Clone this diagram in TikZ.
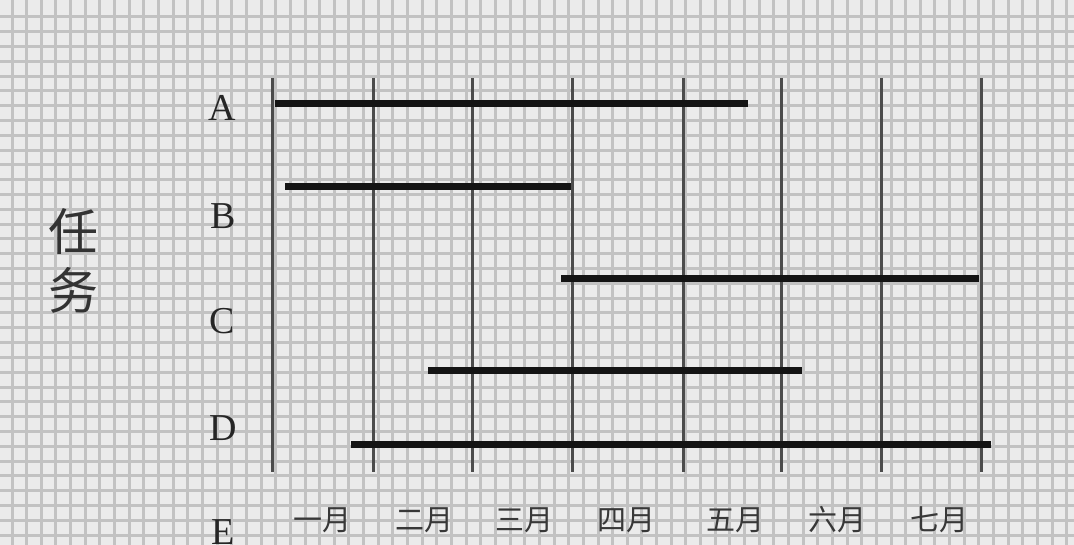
\documentclass[tikz,border=0pt]{standalone}
\usepackage{fontspec}
\setmainfont{Liberation Serif}
\newfontfamily\cjk{Noto Sans CJK SC}
\begin{document}
\begin{tikzpicture}[x=1pt,y=-1pt,
  gridline/.style={draw=black!24,line width=3pt},
  axisline/.style={draw=black!70,line width=3pt},
  taskbar/.style={draw=black!92,line width=7pt},
  letter/.style={text=black!85,font=\fontsize{38}{40}\selectfont,inner sep=0pt},
  month/.style={text=black!78,font=\cjk\fontsize{29}{30}\selectfont,inner sep=0pt},
  vlabel/.style={text=black!80,font=\cjk\fontsize{50}{52}\selectfont,inner sep=0pt}]
\useasboundingbox (0,0) rectangle (1074,545);
\clip (0,0) rectangle (1074,545);
\fill[black!8] (0,0) rectangle (1074,545);
% graph paper
\foreach \i in {0,...,73} \draw[gridline] (12+\i*14.65,0) -- (12+\i*14.65,545);
\foreach \j in {0,...,37} \draw[gridline] (0,17+\j*14.8) -- (1074,17+\j*14.8);
% axis and month dividers
\foreach \x/\n in {272/v0,373/v1,472/v2,572/v3,683/v4,781/v5,881/v6,981/v7}{
  \coordinate (\n t) at (\x,78);
  \coordinate (\n b) at (\x,472);
  \draw[axisline] (\n t) -- (\n b);
}
% task bars
\coordinate (a1) at (275,104); \coordinate (a2) at (748,104);
\coordinate (b1) at (285,187); \coordinate (b2) at (571,187);
\coordinate (c1) at (561,279); \coordinate (c2) at (979,279);
\coordinate (d1) at (428,371); \coordinate (d2) at (802,371);
\coordinate (e1) at (351,444); \coordinate (e2) at (991,444);
\draw[taskbar] (a1) -- (a2);
\draw[taskbar] (b1) -- (b2);
\draw[taskbar] (c1) -- (c2);
\draw[taskbar] (d1) -- (d2);
\draw[taskbar] (e1) -- (e2);
% task letters
\node[letter] (la) at (222,108) {A};
\node[letter] (lb) at (223,216) {B};
\node[letter] (lc) at (222,321) {C};
\node[letter] (ld) at (223,428) {D};
\node[letter] (le) at (223,532) {E};
% vertical label
\node[vlabel] (ren) at (73,232) {任};
\node[vlabel] (wu) at (73,290) {务};
% months
\node[month] (m1) at (322,520) {一月};
\node[month] (m2) at (424,520) {二月};
\node[month] (m3) at (524,520) {三月};
\node[month] (m4) at (626,520) {四月};
\node[month] (m5) at (735,520) {五月};
\node[month] (m6) at (837,520) {六月};
\node[month] (m7) at (939,520) {七月};
\end{tikzpicture}
\end{document}
